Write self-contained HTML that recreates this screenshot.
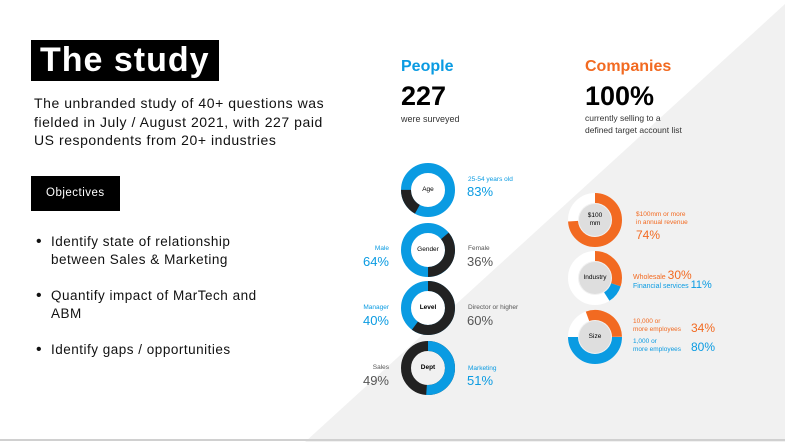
<!DOCTYPE html><html><head><meta charset="utf-8"><style>
body{margin:0;width:785px;height:442px;overflow:hidden;background:#fff;font-family:"Liberation Sans",sans-serif;position:relative}
.a{position:absolute;white-space:nowrap}
.b{font-weight:bold}
</style></head><body>
<svg class="a" style="left:0;top:0" width="785" height="442">
<polygon points="785,4 785,442 305,442" fill="#f1f1f1"/>
<line x1="0" y1="440" x2="785" y2="440" stroke="#d0d0d0" stroke-width="2"/>
<g fill="none" stroke-width="10">
<g transform="translate(428,190) rotate(-90)"><circle r="22" stroke="#0a9be2"/><circle r="22" stroke="#222" stroke-dasharray="23.5 200" transform="rotate(209)"/></g>
<g transform="translate(428,250) rotate(-90)"><circle r="22" stroke="#0a9be2"/><circle r="22" stroke="#222" stroke-dasharray="49.8 200" transform="rotate(50)"/></g>
<g transform="translate(428,308) rotate(-90)"><circle r="22" stroke="#0a9be2"/><circle r="22" stroke="#222" stroke-dasharray="83 200"/></g>
<g transform="translate(428,368) rotate(-90)"><circle r="22" stroke="#222"/><circle r="22" stroke="#0a9be2" stroke-dasharray="70.5 200"/></g>
<g transform="translate(595,220) rotate(-90)"><circle r="22" stroke="#fff"/><circle r="22" stroke="#f26a21" stroke-dasharray="102.3 200"/></g>
<g transform="translate(595,278) rotate(-90)"><circle r="22" stroke="#fff"/><circle r="22" stroke="#f26a21" stroke-dasharray="41.5 200"/><circle r="22" stroke="#0a9be2" stroke-dasharray="15.2 200" transform="rotate(108)"/></g>
<g transform="translate(595,337) rotate(-90)"><circle r="22" stroke="#fff"/><circle r="22" stroke="#f26a21" stroke-dasharray="42 200" transform="rotate(-20)"/><circle r="22" stroke="#0a9be2" stroke-dasharray="69 200" transform="rotate(90)"/></g>
</g>
<circle cx="595" cy="220" r="16" fill="#dedede"/><circle cx="595" cy="278" r="16" fill="#dedede"/><circle cx="595" cy="337" r="16" fill="#dedede"/>
</svg>
<div class="a b" style="left:31px;top:40px;width:188px;height:41px;background:#000;color:#fff;font-size:34px;line-height:41px;padding-left:9px;box-sizing:border-box;letter-spacing:1px">The study</div>
<div class="a" style="left:34px;top:94px;font-size:14px;line-height:18.5px;color:#111;letter-spacing:0.55px">The unbranded study of 40+ questions was<br>fielded in July / August 2021, with 227 paid<br>US respondents from 20+ industries</div>
<div class="a" style="left:31px;top:176px;width:89px;height:35px;background:#000;color:#fff;font-size:11.5px;line-height:35px;padding-left:15px;box-sizing:border-box;letter-spacing:0.5px">Objectives</div>
<div class="a" style="left:36px;top:233px;font-size:13.5px;line-height:18px;color:#111;letter-spacing:0.5px">
<div style="position:relative;padding-left:15px"><span style="position:absolute;left:0;font-size:16px">•</span>Identify state of relationship<br>between Sales &amp; Marketing</div>
<div style="position:relative;padding-left:15px;margin-top:18px"><span style="position:absolute;left:0;font-size:16px">•</span>Quantify impact of MarTech and<br>ABM</div>
<div style="position:relative;padding-left:15px;margin-top:18px"><span style="position:absolute;left:0;font-size:16px">•</span>Identify gaps / opportunities</div>
</div>
<div class="a b" style="left:401px;top:58px;font-size:16px;color:#0a9be2">People</div>
<div class="a b" style="left:401px;top:81px;font-size:27px;color:#000">227</div>
<div class="a" style="left:401px;top:114px;font-size:9px;color:#333">were surveyed</div>
<div class="a b" style="left:585px;top:58px;font-size:16px;color:#f26a21">Companies</div>
<div class="a b" style="left:585px;top:81px;font-size:27px;color:#000">100%</div>
<div class="a" style="left:585px;top:113px;font-size:8.5px;line-height:11.5px;color:#333">currently selling to a<br>defined target account list</div>
<div class="a" style="left:410px;top:186px;width:36px;text-align:center;font-size:6.5px">Age</div>
<div class="a" style="left:410px;top:246px;width:36px;text-align:center;font-size:6.5px">Gender</div>
<div class="a b" style="left:410px;top:304px;width:36px;text-align:center;font-size:6.5px">Level</div>
<div class="a b" style="left:410px;top:364px;width:36px;text-align:center;font-size:6.5px">Dept</div>
<div class="a" style="left:577px;top:212px;width:36px;text-align:center;font-size:6.5px;line-height:8px">$100<br>mm</div>
<div class="a" style="left:575px;top:274px;width:40px;text-align:center;font-size:6.5px">Industry</div>
<div class="a" style="left:577px;top:333px;width:36px;text-align:center;font-size:6.5px">Size</div>
<div class="a" style="left:468px;top:176px;font-size:6.5px;color:#0a9be2">25-54 years old</div>
<div class="a" style="left:467px;top:184px;font-size:13px;color:#0a9be2">83%</div>
<div class="a" style="right:396px;top:245px;font-size:6.5px;color:#0a9be2;text-align:right">Male</div>
<div class="a" style="right:396px;top:254px;font-size:13px;color:#0a9be2">64%</div>
<div class="a" style="left:468px;top:245px;font-size:6.5px;color:#555">Female</div>
<div class="a" style="left:467px;top:254px;font-size:13px;color:#555">36%</div>
<div class="a" style="right:396px;top:304px;font-size:6.5px;color:#0a9be2">Manager</div>
<div class="a" style="right:396px;top:313px;font-size:13px;color:#0a9be2">40%</div>
<div class="a" style="left:468px;top:304px;font-size:6.5px;color:#555">Director or higher</div>
<div class="a" style="left:467px;top:313px;font-size:13px;color:#555">60%</div>
<div class="a" style="right:396px;top:364px;font-size:6.5px;color:#555">Sales</div>
<div class="a" style="right:396px;top:373px;font-size:13px;color:#555">49%</div>
<div class="a" style="left:468px;top:365px;font-size:6.5px;color:#0a9be2">Marketing</div>
<div class="a" style="left:467px;top:373px;font-size:13px;color:#0a9be2">51%</div>
<div class="a" style="left:636px;top:211px;font-size:6.5px;line-height:8px;color:#f26a21">$100mm or more<br>in annual revenue</div>
<div class="a" style="left:636px;top:228px;font-size:12px;color:#f26a21">74%</div>
<div class="a" style="left:633px;top:268px;font-size:7px;color:#f26a21">Wholesale <span style="font-size:12px">30%</span></div>
<div class="a" style="left:633px;top:279px;font-size:7px;color:#0a9be2">Financial services <span style="font-size:11px">11%</span></div>
<div class="a" style="left:633px;top:318px;font-size:6.5px;line-height:8px;color:#f26a21">10,000 or<br>more employees</div>
<div class="a" style="left:691px;top:321px;font-size:12px;color:#f26a21">34%</div>
<div class="a" style="left:633px;top:338px;font-size:6.5px;line-height:8px;color:#0a9be2">1,000 or<br>more employees</div>
<div class="a" style="left:691px;top:340px;font-size:12px;color:#0a9be2">80%</div>
</body></html>
